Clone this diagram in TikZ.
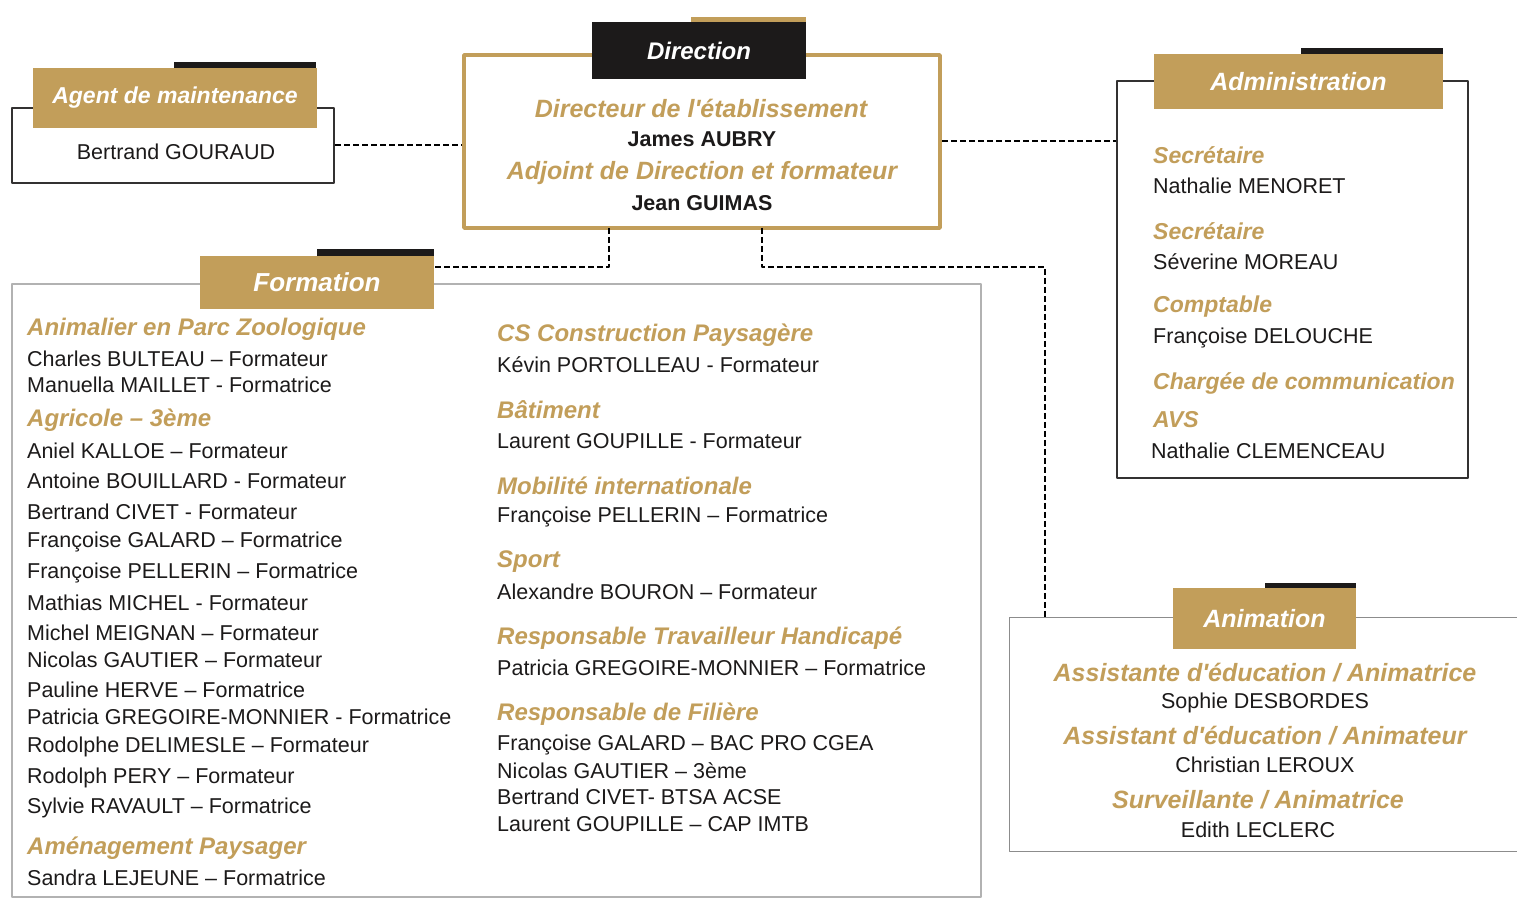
\documentclass[tikz,border=0pt]{standalone}
\usepackage{fontspec}
\setmainfont{Liberation Sans}
\newfontfamily\brushfont{Liberation Sans}
\definecolor{gold}{RGB}{194,158,90}
\definecolor{ink}{RGB}{28,26,26}
\begin{document}
\begin{tikzpicture}[>=latex,line join=bevel,
  person/.style={font=\fontsize{21.5bp}{24bp}\selectfont,text=ink,inner sep=0pt},
  chief/.style={person,font=\fontsize{21.5bp}{24bp}\selectfont\bfseries},
  role/.style={font=\fontsize{24bp}{26bp}\brushfont\bfseries\itshape,text=gold,inner sep=0pt},
  bigrole/.style={role,font=\fontsize{25bp}{28bp}\brushfont\bfseries\itshape},
  adminrole/.style={role,anchor=west,font=\fontsize{23bp}{24bp}\brushfont\bfseries\itshape},
  head/.style={fill=gold,text=white,font=\fontsize{25bp}{28bp}\brushfont\bfseries\itshape,inner sep=0pt},
  darkbox/.style={draw=ink!90,line width=2.4bp,fill=white},
  greybox/.style={draw=black!30,line width=1.3bp},
  link/.style={black,line width=2bp,dash pattern=on 6bp off 3bp},
]
\useasboundingbox (0bp,0bp) rectangle (1517bp,900bp);
%% maintenance
\node (agent) at (173bp,754.5bp) [darkbox,minimum width=322bp,minimum height=75bp] {};
\fill[ink] (174bp,838bp) rectangle (316bp,832bp);
\node (agenthead) at (175bp,802bp) [head,minimum width=284bp,minimum height=60bp,font=\fontsize{23bp}{26bp}\brushfont\bfseries\itshape] {Agent de maintenance};
\node (gouraud) at (176bp,748bp) [person] {Bertrand GOURAUD};
%% direction
\node (dir) at (702bp,758.5bp) [draw=gold,line width=4bp,fill=white,minimum width=476bp,minimum height=173bp] {};
\fill[gold] (691bp,883bp) rectangle (806bp,878bp);
\node (dirhead) at (699bp,849.5bp) [head,fill=ink,minimum width=214bp,minimum height=57bp,font=\fontsize{24bp}{26bp}\brushfont\bfseries\itshape] {Direction};
\node (dir_1) at (701bp,792bp) [bigrole] {Directeur de l'établissement};
\node (dir_2) at (702bp,761bp) [chief] {James AUBRY};
\node (dir_3) at (702bp,727bp) [bigrole] {Adjoint de Direction et formateur};
\node (dir_4) at (702bp,697bp) [chief] {Jean GUIMAS};
%% administration
\node (admin) at (1292.5bp,620.5bp) [darkbox,minimum width=351bp,minimum height=397bp] {};
\fill[ink] (1301bp,852bp) rectangle (1443bp,846bp);
\node (adminhead) at (1298.5bp,818.5bp) [head,minimum width=289bp,minimum height=55bp] {Administration};
\node (admin_1) at (1153bp,745bp) [adminrole] {Secrétaire};
\node (admin_2) at (1153bp,714bp) [person,anchor=west] {Nathalie MENORET};
\node (admin_3) at (1153bp,669bp) [adminrole] {Secrétaire};
\node (admin_4) at (1153bp,638bp) [person,anchor=west] {Séverine MOREAU};
\node (admin_5) at (1153bp,593bp) [adminrole] {Comptable};
\node (admin_6) at (1153bp,562bp) [person,anchor=west] {Françoise DELOUCHE};
\node (admin_7) at (1153bp,517bp) [adminrole] {Chargée de communication};
\node (admin_8) at (1153bp,480bp) [adminrole] {AVS};
\node (admin_9) at (1151bp,449bp) [person,anchor=west] {Nathalie CLEMENCEAU};
%% formation
\node (form) at (496.5bp,309.5bp) [greybox,minimum width=969bp,minimum height=613bp] {};
\fill[ink] (317bp,651bp) rectangle (434bp,644bp);
\node (formhead) at (317bp,617.5bp) [head,minimum width=234bp,minimum height=53bp,font=\fontsize{26bp}{28bp}\brushfont\bfseries\itshape] {Formation};
\node (form_1) at (27bp,571bp) [role,anchor=west] {Animalier en Parc Zoologique};
\node (form_2) at (27bp,541bp) [person,anchor=west] {Charles BULTEAU – Formateur};
\node (form_3) at (27bp,515bp) [person,anchor=west] {Manuella MAILLET - Formatrice};
\node (form_4) at (27bp,480bp) [role,anchor=west] {Agricole – 3ème};
\node (form_5) at (27bp,449bp) [person,anchor=west] {Aniel KALLOE – Formateur};
\node (form_6) at (27bp,419bp) [person,anchor=west] {Antoine BOUILLARD - Formateur};
\node (form_7) at (27bp,388bp) [person,anchor=west] {Bertrand CIVET - Formateur};
\node (form_8) at (27bp,358bp) [person,anchor=west] {Françoise GALARD – Formatrice};
\node (form_9) at (27bp,327bp) [person,anchor=west] {Françoise PELLERIN – Formatrice};
\node (form_10) at (27bp,297bp) [person,anchor=west] {Mathias MICHEL - Formateur};
\node (form_11) at (27bp,267bp) [person,anchor=west] {Michel MEIGNAN – Formateur};
\node (form_12) at (27bp,240bp) [person,anchor=west] {Nicolas GAUTIER – Formateur};
\node (form_13) at (27bp,210bp) [person,anchor=west] {Pauline HERVE – Formatrice};
\node (form_14) at (27bp,183bp) [person,anchor=west] {Patricia GREGOIRE-MONNIER - Formatrice};
\node (form_15) at (27bp,153bp) [person,anchor=west] {Rodolphe DELIMESLE – Formateur};
\node (form_16) at (27bp,122bp) [person,anchor=west] {Rodolph PERY – Formateur};
\node (form_17) at (27bp,92bp) [person,anchor=west] {Sylvie RAVAULT – Formatrice};
\node (form_18) at (27bp,52bp) [role,anchor=west] {Aménagement Paysager};
\node (form_19) at (27bp,22bp) [person,anchor=west] {Sandra LEJEUNE – Formatrice};
%
\node (form_20) at (497bp,565bp) [role,anchor=west] {CS Construction Paysagère};
\node (form_21) at (497bp,535bp) [person,anchor=west] {Kévin PORTOLLEAU - Formateur};
\node (form_22) at (497bp,490bp) [role,anchor=west] {Bâtiment};
\node (form_23) at (497bp,459bp) [person,anchor=west] {Laurent GOUPILLE - Formateur};
\node (form_24) at (497bp,414bp) [role,anchor=west] {Mobilité internationale};
\node (form_25) at (497bp,383bp) [person,anchor=west] {Françoise PELLERIN – Formatrice};
\node (form_26) at (497bp,338bp) [role,anchor=west] {Sport};
\node (form_27) at (497bp,308bp) [person,anchor=west] {Alexandre BOURON – Formateur};
\node (form_28) at (497bp,262bp) [role,anchor=west] {Responsable Travailleur Handicapé};
\node (form_29) at (497bp,232bp) [person,anchor=west] {Patricia GREGOIRE-MONNIER – Formatrice};
\node (form_30) at (497bp,186bp) [role,anchor=west] {Responsable de Filière};
\node (form_31) at (497bp,155bp) [person,anchor=west] {Françoise GALARD – BAC PRO CGEA};
\node (form_32) at (497bp,129bp) [person,anchor=west] {Nicolas GAUTIER – 3ème};
\node (form_33) at (497bp,103bp) [person,anchor=west] {Bertrand CIVET- BTSA ACSE};
\node (form_34) at (497bp,76bp) [person,anchor=west] {Laurent GOUPILLE – CAP IMTB};
%% animation
\node (anim) at (1263.5bp,165.5bp) [minimum width=507bp,minimum height=233bp] {};
\draw[draw=black!45,line width=1.3bp] (anim.north east) -| (anim.south west) -- (anim.south east);
\fill[ink] (1265bp,317bp) rectangle (1356bp,312bp);
\node (animhead) at (1264.5bp,281.5bp) [head,minimum width=183bp,minimum height=61bp] {Animation};
\node (anim_1) at (1265bp,227bp) [bigrole] {Assistante d'éducation / Animatrice};
\node (anim_2) at (1265bp,197bp) [person] {Sophie DESBORDES};
\node (anim_3) at (1265bp,164bp) [bigrole] {Assistant d'éducation / Animateur};
\node (anim_4) at (1265bp,135bp) [person] {Christian LEROUX};
\node (anim_5) at (1258bp,100bp) [bigrole] {Surveillante / Animatrice};
\node (anim_6) at (1258bp,70bp) [person] {Edith LECLERC};
%% links
\coordinate (dirL) at (609bp,672bp);
\coordinate (dirR) at (762bp,672bp);
\coordinate (bendR) at (1045bp,633bp);
\coordinate (animT) at (1045bp,282bp);
\draw [link] (agent.east) -- (agent.east -| dir.west);
\draw [link] (dir.east) -- (dir.east -| admin.west);
\draw [link] (dirL) |- ([yshift=-11bp]formhead.north east);
\draw [link] (dirR) |- (bendR) -- (animT);
%
\end{tikzpicture}
\end{document}
